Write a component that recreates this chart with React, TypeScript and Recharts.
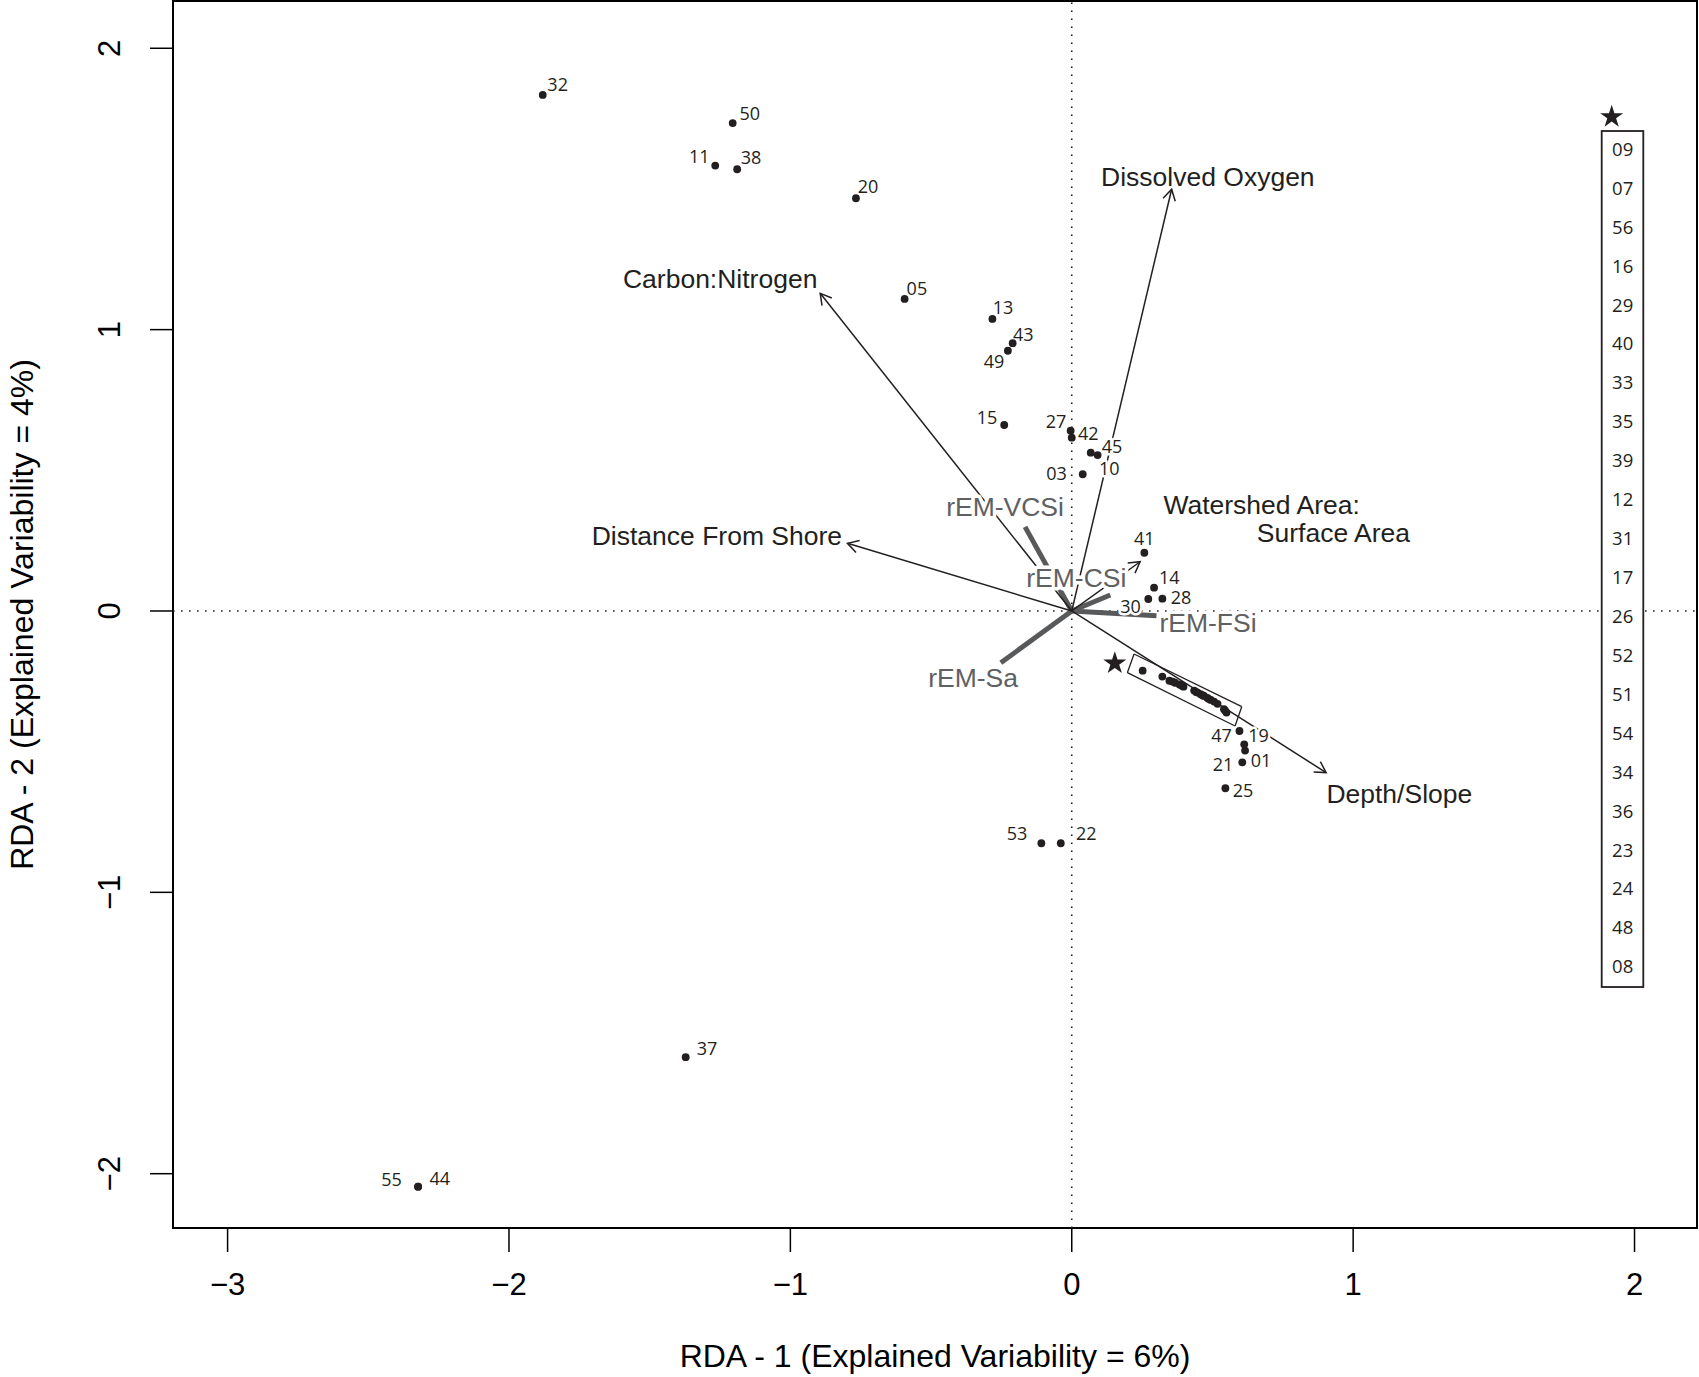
import React from 'react';
import { ScatterChart, Scatter, XAxis, YAxis, ReferenceLine, ReferenceArea } from 'recharts';

// ---------- data ----------
const xTicks = [-3, -2, -1, 0, 1, 2];
const yTicks = [-2, -1, 0, 1, 2];
const xDomain: [number, number] = [-3.194, 2.222];
const yDomain: [number, number] = [-2.193, 2.168];

const xTitle = 'RDA - 1 (Explained Variability = 6%)';
const yTitle = 'RDA - 2 (Explained Variability = 4%)';

// labelled sites
const sites = [
  { id: '32', x: -1.88, y: 1.834 },
  { id: '50', x: -1.205, y: 1.734 },
  { id: '11', x: -1.267, y: 1.583 },
  { id: '38', x: -1.189, y: 1.57 },
  { id: '20', x: -0.767, y: 1.467 },
  { id: '05', x: -0.594, y: 1.109 },
  { id: '13', x: -0.282, y: 1.038 },
  { id: '43', x: -0.21, y: 0.952 },
  { id: '49', x: -0.227, y: 0.925 },
  { id: '15', x: -0.24, y: 0.661 },
  { id: '27', x: -0.004, y: 0.641 },
  { id: '42', x: 0.0, y: 0.616 },
  { id: '10', x: 0.0675, y: 0.5625 },
  { id: '45', x: 0.092, y: 0.554 },
  { id: '03', x: 0.039, y: 0.486 },
  { id: '41', x: 0.258, y: 0.207 },
  { id: '14', x: 0.2925, y: 0.0828 },
  { id: '30', x: 0.272, y: 0.0426 },
  { id: '28', x: 0.322, y: 0.0438 },
  { id: '47', x: 0.596, y: -0.4265 },
  { id: '19', x: 0.613, y: -0.474 },
  { id: '01', x: 0.616, y: -0.496 },
  { id: '21', x: 0.606, y: -0.538 },
  { id: '25', x: 0.546, y: -0.63 },
  { id: '53', x: -0.108, y: -0.8255 },
  { id: '22', x: -0.039, y: -0.8255 },
  { id: '37', x: -1.372, y: -1.586 },
  { id: '55', x: -2.323, y: -2.046 },
  { id: '44', x: -2.323, y: -2.046 },
];

// starred sites (inside the rotated box, listed in the legend)
const starIds = ['09', '07', '56', '16', '29', '40', '33', '35', '39', '12', '31', '17', '26', '52', '51', '54', '34', '36', '23', '24', '48', '08'];
const starX = [0.252, 0.322, 0.347, 0.358, 0.367, 0.383, 0.39, 0.397, 0.435, 0.442, 0.447, 0.458, 0.466, 0.47, 0.482, 0.488, 0.494, 0.506, 0.518, 0.541, 0.546, 0.55];
const starY = [-0.212, -0.233, -0.248, -0.251, -0.255, -0.261, -0.265, -0.269, -0.283, -0.288, -0.29, -0.296, -0.3, -0.302, -0.309, -0.313, -0.316, -0.322, -0.33, -0.349, -0.355, -0.361];
const starSites = starIds.map((id, i) => ({ id, x: starX[i], y: starY[i] }));

const starMarker = [{ x: 0.153, y: -0.186 }];

const clusterBox = [
  { x: 0.2214, y: -0.1528 },
  { x: 0.6041, y: -0.3401 },
  { x: 0.5803, y: -0.4087 },
  { x: 0.1976, y: -0.2193 },
];

// environmental arrows
const envArrows = [
  { name: 'Dissolved Oxygen', x: 0.355, y: 1.499 },
  { name: 'Carbon:Nitrogen', x: -0.894, y: 1.129 },
  { name: 'Distance From Shore', x: -0.797, y: 0.2405 },
  { name: 'Depth/Slope', x: 0.904, y: -0.5745 },
  { name: 'Watershed Area:|Surface Area', x: 0.243, y: 0.175 },
];

// grain-size end-member vectors
const remVectors = [
  { name: 'rEM-VCSi', x: -0.166, y: 0.299 },
  { name: 'rEM-CSi', x: 0.137, y: 0.057 },
  { name: 'rEM-FSi', x: 0.301, y: -0.0167 },
  { name: 'rEM-Sa', x: -0.252, y: -0.184 },
];

// ---------- layout / style ----------
const W = 1699;
const H = 1377;
const ARIAL = "'Liberation Sans', Arial, Helvetica, sans-serif";
const MYRIAD = "'Open Sans', 'Noto Sans', sans-serif";
const INK = '#231f20';
const GRAY = '#58595b';
const GRAY_TXT = '#5f6062';

type Anchor = 'start' | 'middle' | 'end';
const siteLabelLayout: Record<string, [number, number, Anchor]> = {
  '32': [4.6, -11, 'start'],
  '50': [6.7, -9.7, 'start'],
  '11': [-5.6, -9.7, 'end'],
  '38': [3.5, -12.6, 'start'],
  '20': [1.7, -12.6, 'start'],
  '05': [2, -11.3, 'start'],
  '13': [0.3, -12.3, 'start'],
  '43': [0.4, -9, 'start'],
  '49': [-3.5, 10, 'end'],
  '15': [-7, -8.3, 'end'],
  '27': [-4.2, -9.2, 'end'],
  '42': [6.3, -4.7, 'start'],
  '45': [4, -9, 'start'],
  '10': [8.3, 15.6, 'start'],
  '03': [-16, -1, 'end'],
  '41': [0, -14.3, 'middle'],
  '14': [5, -10.8, 'start'],
  '28': [8.4, -2, 'start'],
  '30': [-7.4, 7.2, 'end'],
  '47': [-7.6, 4, 'end'],
  '19': [4, -9, 'start'],
  '01': [5.7, 9.5, 'start'],
  '21': [-9, 1.7, 'end'],
  '25': [7.4, 1.7, 'start'],
  '53': [-14, -10.6, 'end'],
  '22': [15.3, -10, 'start'],
  '37': [11, -9, 'start'],
  '55': [-16.3, -7.4, 'end'],
  '44': [11.3, -8.4, 'start'],
};

// label line offsets from arrow tip (px)
const envLabelLayout: Record<string, [number, number, Anchor][]> = {
  'Dissolved Oxygen': [[36.2, -12, 'middle']],
  'Carbon:Nitrogen': [[-100, -14, 'middle']],
  'Distance From Shore': [[-130.6, -7.3, 'middle']],
  'Depth/Slope': [[73.2, 21.6, 'middle']],
  'Watershed Area:|Surface Area': [[23.3, -56.7, 'start'], [116.7, -28.4, 'start']],
};
const remLabelLayout: Record<string, [number, number]> = {
  'rEM-VCSi': [-20, -20],
  'rEM-CSi': [-34, -17.3],
  'rEM-FSi': [51.6, 7],
  'rEM-Sa': [-27.7, 15.6],
};

const minus = (v: number) => String(v).replace('-', '\u2212');

function starPath(cx: number, cy: number, R: number) {
  const r = R * 0.382;
  const pts: string[] = [];
  for (let i = 0; i < 10; i++) {
    const ang = (-90 + i * 36) * (Math.PI / 180);
    const rad = i % 2 === 0 ? R : r;
    pts.push(`${cx + rad * Math.cos(ang)},${cy + rad * Math.sin(ang)}`);
  }
  return pts.join(' ');
}

const ArrowShape = (p: any) => {
  const { x1, y1, x2, y2 } = p;
  const ang = Math.atan2(y2 - y1, x2 - x1);
  const L = 12.5;
  const a = Math.PI / 6;
  const ax = x2 - L * Math.cos(ang - a);
  const ay = y2 - L * Math.sin(ang - a);
  const bx = x2 - L * Math.cos(ang + a);
  const by = y2 - L * Math.sin(ang + a);
  return (
    <g>
      <line x1={x1} y1={y1} x2={x2} y2={y2} stroke={INK} strokeWidth={1.5} />
      <polyline points={`${ax},${ay} ${x2},${y2} ${bx},${by}`} fill="none" stroke={INK} strokeWidth={1.5} />
    </g>
  );
};

const XTick = (p: any) => {
  const { x, y, payload } = p;
  return (
    <text x={x} y={y} dy="0.71em" textAnchor="middle" fontSize={31} fontFamily={ARIAL} fill="#000">
      {minus(payload.value)}
    </text>
  );
};

const YTick = (p: any) => {
  const { x, y, payload } = p;
  return (
    <text x={x} y={y} transform={`rotate(-90 ${x} ${y})`} textAnchor="middle" fontSize={31} fontFamily={ARIAL} fill="#000">
      {minus(payload.value)}
    </text>
  );
};

const SiteLabel = (p: any) => {
  const { cx, cy, payload } = p;
  const o = siteLabelLayout[payload.id] ?? [5, -10, 'start'];
  return (
    <text
      x={cx + o[0]}
      y={cy + o[1]}
      textAnchor={o[2]}
      dominantBaseline="central"
      fontSize={18}
      fontFamily={MYRIAD}
      fill={INK}
      stroke="#fff"
      strokeWidth={5}
      strokeLinejoin="round"
      paintOrder="stroke"
    >
      {payload.id}
    </text>
  );
};

const Dot = (p: any) => <circle cx={p.cx} cy={p.cy} r={3.9} fill={INK} />;

const StarShape = (p: any) => <polygon points={starPath(p.cx, p.cy, 12.1)} fill={INK} />;

const EnvLabel = (p: any) => {
  const { cx, cy, payload } = p;
  const lines = String(payload.name).split('|');
  const lay = envLabelLayout[payload.name] ?? [];
  return (
    <g>
      {lines.map((t, i) => {
        const o = lay[i] ?? [0, 0, 'middle'];
        return (
          <text key={i} x={cx + o[0]} y={cy + o[1]} textAnchor={o[2]} dominantBaseline="central" fontSize={26.5} fontFamily={ARIAL} fill={INK}>
            {t}
          </text>
        );
      })}
    </g>
  );
};

const RemLabel = (p: any) => {
  const { cx, cy, payload } = p;
  const o = remLabelLayout[payload.name] ?? [0, 0];
  return (
    <text
      x={cx + o[0]}
      y={cy + o[1]}
      textAnchor="middle"
      dominantBaseline="central"
      fontSize={26.5}
      fontFamily={ARIAL}
      fill={GRAY_TXT}
      stroke="#fff"
      strokeWidth={7}
      strokeLinejoin="round"
      paintOrder="stroke"
    >
      {payload.name}
    </text>
  );
};

export default function App() {
  const boxSegs = clusterBox.map((p, i) => [p, clusterBox[(i + 1) % clusterBox.length]]);
  return (
    <div style={{ position: 'absolute', left: 0, top: 0, width: W, height: H, background: '#fff' }}>
      <ScatterChart width={W} height={H} margin={{ top: 1, right: 2, bottom: 0, left: 0 }}>
        <XAxis
          type="number"
          dataKey="x"
          domain={xDomain}
          ticks={xTicks}
          interval={0}
          allowDataOverflow
          height={149}
          tickSize={24}
          tickMargin={20.5}
          axisLine={false}
          tickLine={{ stroke: '#000', strokeWidth: 1.5 }}
          tick={<XTick />}
        />
        <YAxis
          type="number"
          dataKey="y"
          domain={yDomain}
          ticks={yTicks}
          interval={0}
          allowDataOverflow
          width={173}
          tickSize={23}
          tickMargin={29.5}
          axisLine={false}
          tickLine={{ stroke: '#000', strokeWidth: 1.5 }}
          tick={<YTick />}
        />
        <ReferenceLine x={0} stroke={INK} strokeWidth={1.6} strokeDasharray="1.6 6.4" />
        <ReferenceLine y={0} stroke={INK} strokeWidth={1.6} strokeDasharray="1.6 6.4" />
        {remVectors.map((v) => (
          <ReferenceLine
            key={v.name}
            segment={[{ x: 0, y: 0 }, { x: v.x, y: v.y }]}
            stroke={GRAY}
            strokeWidth={5}
          />
        ))}
        {envArrows.map((a) => (
          <ReferenceLine key={a.name} segment={[{ x: 0, y: 0 }, { x: a.x, y: a.y }]} shape={ArrowShape} />
        ))}
        {boxSegs.map((s, i) => (
          <ReferenceLine key={'box' + i} segment={[s[0], s[1]]} stroke={INK} strokeWidth={1.3} />
        ))}
        <ReferenceArea
          x1={xDomain[0]}
          x2={xDomain[1]}
          y1={yDomain[0]}
          y2={yDomain[1]}
          fill="none"
          fillOpacity={0}
          stroke="#000"
          strokeWidth={2}
          ifOverflow="visible"
        />
        <Scatter data={envArrows} shape={EnvLabel} isAnimationActive={false} />
        <Scatter data={remVectors} shape={RemLabel} isAnimationActive={false} />
        <Scatter data={sites} shape={SiteLabel} isAnimationActive={false} />
        <Scatter data={sites} shape={Dot} isAnimationActive={false} />
        <Scatter data={starSites} shape={Dot} isAnimationActive={false} />
        <Scatter data={starMarker} shape={StarShape} isAnimationActive={false} />
      </ScatterChart>
      <svg width={W} height={H} style={{ position: 'absolute', left: 0, top: 0, pointerEvents: 'none' }}>
        <text x={935} y={1366.7} textAnchor="middle" fontSize={32} fontFamily={ARIAL} fill="#000">
          {xTitle}
        </text>
        <text x={32.5} y={614.5} transform="rotate(-90 32.5 614.5)" textAnchor="middle" fontSize={32} fontFamily={ARIAL} fill="#000">
          {yTitle}
        </text>
        <polygon points={starPath(1611.7, 116.9, 12.1)} fill={INK} />
        <rect x={1601.7} y={131} width={41.6} height={856} fill="#fff" stroke={INK} strokeWidth={1.8} />
        {starIds.map((id, i) => (
          <text key={id} x={1622.7} y={148.3 + i * 38.93} textAnchor="middle" dominantBaseline="central" fontSize={18.5} fontFamily={MYRIAD} fill={INK}>
            {id}
          </text>
        ))}
      </svg>
    </div>
  );
}
